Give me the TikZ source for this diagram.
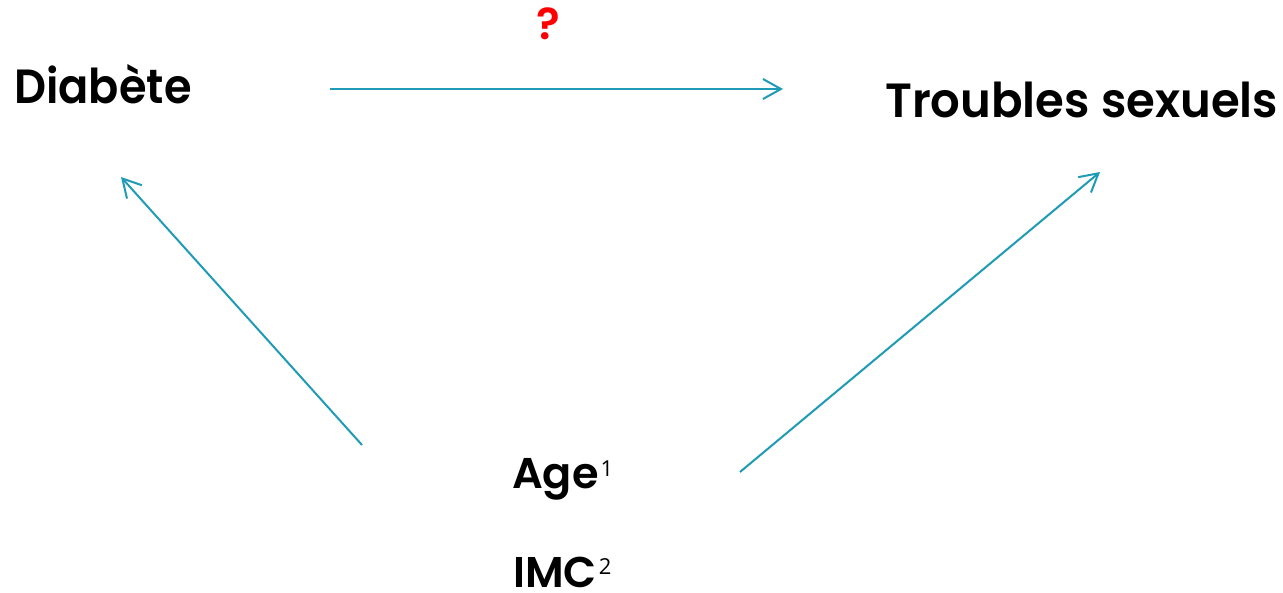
\documentclass[tikz,border=0pt]{standalone}
\usepackage{fontspec}
\setmainfont{Poppins}[BoldFont={* SemiBold}]
\newfontfamily\narrowfont{Poppins}[BoldFont={* SemiBold},FakeStretch=0.93]
\newfontfamily\widefont{Poppins}[BoldFont={* SemiBold},FakeStretch=0.97]
\newfontfamily\supfont{Open Sans}
\usetikzlibrary{arrows.meta}
\definecolor{teal1}{HTML}{1F9BB5}
\definecolor{qred}{HTML}{FF0000}
\newcommand{\supnum}[1]{\hspace{2pt}\raisebox{13pt}{\supfont\mdseries\fontsize{22}{22}\selectfont #1}}
\begin{document}
\begin{tikzpicture}[x=1pt,y=-1pt,
  lbl/.style={inner sep=0pt, anchor=base west, font=\narrowfont\fontsize{48}{48}\selectfont\bfseries},
  sublbl/.style={inner sep=0pt, anchor=base west, font=\fontsize{43}{43}\selectfont\bfseries},
  conn/.style={draw=teal1, line width=2pt, -{Straight Barb[length=18pt,width=20pt,line width=2pt]}}]
\useasboundingbox (0,0) rectangle (1283,593);
\node[lbl] (diab) at (14,104) {Diabète};
\node[lbl, font=\widefont\fontsize{48}{48}\selectfont\bfseries] (trou) at (885,118) {Troubles sexuels};
\node[sublbl] (age) at (512,489) {Age\supnum{1}};
\node[sublbl] (imc) at (513,587) {IMC\supnum{2}};
\node[inner sep=0pt, anchor=base, text=qred, font=\fontsize{44}{44}\selectfont\bfseries] (q) at (548,40) {?};
\coordinate (h1) at (330,89);
\coordinate (h2) at (783,89);
\coordinate (l1) at (362,445);
\coordinate (l2) at (121,177);
\coordinate (r1) at (740,472);
\coordinate (r2) at (1100,172);
\draw[conn] (h1) -- (h2);
\draw[conn] (l1) -- (l2);
\draw[conn] (r1) -- (r2);
\end{tikzpicture}
\end{document}
